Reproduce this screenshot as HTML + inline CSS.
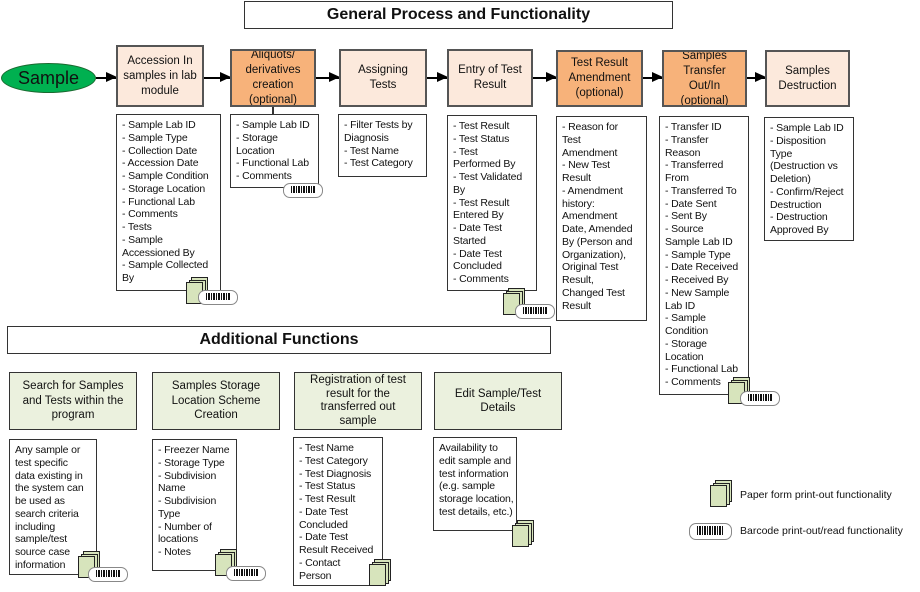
<!DOCTYPE html>
<html><head><meta charset="utf-8"><style>
*{margin:0;padding:0;box-sizing:border-box}
body{width:920px;height:592px;background:#fff;position:relative;overflow:hidden;font-family:"Liberation Sans",sans-serif;color:#111}
.a{position:absolute}
.t{border:1.5px solid #333;background:#fff;display:flex;align-items:center;justify-content:center;font-weight:bold;font-size:16px}
.p{border:2px solid #555;display:flex;align-items:center;justify-content:center;text-align:center;font-size:11.5px;line-height:15px;overflow:hidden;white-space:nowrap}
.lt{background:#fce9dc}
.or{background:#f7b27a}
.gr{background:#ebf1de;border:1.5px solid #333;display:flex;align-items:center;justify-content:center;text-align:center;font-size:11.5px;line-height:14.5px;white-space:nowrap}
.d{border:1.5px solid #333;background:#fff;font-size:10.5px;line-height:12.75px;padding:4px 0 0 5px;overflow:visible;white-space:nowrap;letter-spacing:-0.15px}
.pp{position:absolute;width:22px;height:28px}
.pp i{position:absolute;width:17px;height:22px;background:#d7e4bc;border:1px solid #222}
.bc{position:absolute;width:40px;height:15px;border:1px solid #888;border-radius:7px;background:#fff}
.bc i{position:absolute;left:7px;right:7px;top:2px;bottom:4px;background:repeating-linear-gradient(90deg,#111 0 1px,#fff 1px 2px,#111 2px 4px,#fff 4px 5px)}
.ar{position:absolute;height:1.5px;background:#000}
.ar:after{content:"";position:absolute;right:-1px;top:-5px;border-left:11px solid #000;border-top:5.5px solid transparent;border-bottom:5.5px solid transparent}
</style></head><body>
<div class="a t" style="left:244px;top:1px;width:429px;height:28px">General Process and Functionality</div>

<div class="a" style="left:1px;top:63px;width:95px;height:30px;border-radius:50%;background:#00b050;border:1.5px solid #1a6a30;display:flex;align-items:center;justify-content:center;font-size:18px">Sample</div>

<div class="ar" style="left:96px;top:77px;width:20px"></div>
<div class="ar" style="left:204px;top:77px;width:26px"></div>
<div class="ar" style="left:316px;top:77px;width:23px"></div>
<div class="ar" style="left:427px;top:77px;width:20px"></div>
<div class="ar" style="left:533px;top:77px;width:23px"></div>
<div class="ar" style="left:643px;top:77px;width:19px"></div>
<div class="ar" style="left:747px;top:77px;width:18px"></div>

<div class="a p lt" style="left:116px;top:45px;width:88px;height:62px">Accession In<br>samples in lab<br>module</div>
<div class="a p or" style="left:230px;top:49px;width:86px;height:58px">Aliquots/<br>derivatives<br>creation<br>(optional)</div>
<div class="a p lt" style="left:339px;top:49px;width:88px;height:58px">Assigning<br>Tests</div>
<div class="a p lt" style="left:447px;top:49px;width:86px;height:58px">Entry of Test<br>Result</div>
<div class="a p or" style="left:556px;top:50px;width:87px;height:57px">Test Result<br>Amendment<br>(optional)</div>
<div class="a p or" style="left:662px;top:50px;width:85px;height:57px">Samples<br>Transfer<br>Out/In<br>(optional)</div>
<div class="a p lt" style="left:765px;top:50px;width:85px;height:57px">Samples<br>Destruction</div>
<div class="a" style="left:272px;top:107px;width:1.5px;height:7px;background:#333"></div>

<div class="a d" style="left:116px;top:114px;width:105px;height:177px">- Sample Lab ID<br>- Sample Type<br>- Collection Date<br>- Accession Date<br>- Sample Condition<br>- Storage Location<br>- Functional Lab<br>- Comments<br>- Tests<br>- Sample<br>Accessioned By<br>- Sample Collected<br>By</div>
<div class="a d" style="left:230px;top:114px;width:89px;height:74px">- Sample Lab ID<br>- Storage<br>Location<br>- Functional Lab<br>- Comments</div>
<div class="a d" style="left:338px;top:114px;width:89px;height:63px">- Filter Tests by<br>Diagnosis<br>- Test Name<br>- Test Category</div>
<div class="a d" style="left:447px;top:115px;width:90px;height:176px">- Test Result<br>- Test Status<br>- Test<br>Performed By<br>- Test Validated<br>By<br>- Test Result<br>Entered By<br>- Date Test<br>Started<br>- Date Test<br>Concluded<br>- Comments</div>
<div class="a d" style="left:556px;top:116px;width:91px;height:205px">- Reason for<br>Test<br>Amendment<br>- New Test<br>Result<br>- Amendment<br>history:<br>Amendment<br>Date, Amended<br>By (Person and<br>Organization),<br>Original Test<br>Result,<br>Changed Test<br>Result</div>
<div class="a d" style="left:659px;top:116px;width:90px;height:279px">- Transfer ID<br>- Transfer<br>Reason<br>- Transferred<br>From<br>- Transferred To<br>- Date Sent<br>- Sent By<br>- Source<br>Sample Lab ID<br>- Sample Type<br>- Date Received<br>- Received By<br>- New Sample<br>Lab ID<br>- Sample<br>Condition<br>- Storage<br>Location<br>- Functional Lab<br>- Comments</div>
<div class="a d" style="left:764px;top:117px;width:90px;height:124px">- Sample Lab ID<br>- Disposition<br>Type<br>(Destruction vs<br>Deletion)<br>- Confirm/Reject<br>Destruction<br>- Destruction<br>Approved By</div>

<div class="a t" style="left:7px;top:326px;width:544px;height:28px">Additional Functions</div>

<div class="a gr" style="left:9px;top:372px;width:128px;height:58px">Search for Samples<br>and Tests within the<br>program</div>
<div class="a gr" style="left:152px;top:372px;width:128px;height:58px">Samples Storage<br>Location Scheme<br>Creation</div>
<div class="a gr" style="left:294px;top:372px;width:128px;height:58px;line-height:13.5px">Registration of test<br>result for the<br>transferred out<br>sample</div>
<div class="a gr" style="left:434px;top:372px;width:128px;height:58px">Edit Sample/Test<br>Details</div>

<div class="a d" style="left:9px;top:439px;width:88px;height:136px">Any sample or<br>test specific<br>data existing in<br>the system can<br>be used as<br>search criteria<br>including<br>sample/test<br>source case<br>information</div>
<div class="a d" style="left:152px;top:439px;width:85px;height:132px">- Freezer Name<br>- Storage Type<br>- Subdivision<br>Name<br>- Subdivision<br>Type<br>- Number of<br>locations<br>- Notes</div>
<div class="a d" style="left:293px;top:437px;width:90px;height:149px">- Test Name<br>- Test Category<br>- Test Diagnosis<br>- Test Status<br>- Test Result<br>- Date Test<br>Concluded<br>- Date Test<br>Result Received<br>- Contact<br>Person</div>
<div class="a d" style="left:433px;top:437px;width:84px;height:94px">Availability to<br>edit sample and<br>test information<br>(e.g. sample<br>storage location,<br>test details, etc.)</div>

<div class="pp" style="left:186px;top:277px"><i style="left:5px;top:0"></i><i style="left:2.5px;top:2.5px"></i><i style="left:0;top:5px"></i></div>
<div class="pp" style="left:503px;top:288px"><i style="left:5px;top:0"></i><i style="left:2.5px;top:2.5px"></i><i style="left:0;top:5px"></i></div>
<div class="pp" style="left:728px;top:377px"><i style="left:5px;top:0"></i><i style="left:2.5px;top:2.5px"></i><i style="left:0;top:5px"></i></div>
<div class="pp" style="left:78px;top:551px"><i style="left:5px;top:0"></i><i style="left:2.5px;top:2.5px"></i><i style="left:0;top:5px"></i></div>
<div class="pp" style="left:215px;top:549px"><i style="left:5px;top:0"></i><i style="left:2.5px;top:2.5px"></i><i style="left:0;top:5px"></i></div>
<div class="pp" style="left:369px;top:559px"><i style="left:5px;top:0"></i><i style="left:2.5px;top:2.5px"></i><i style="left:0;top:5px"></i></div>
<div class="pp" style="left:512px;top:520px"><i style="left:5px;top:0"></i><i style="left:2.5px;top:2.5px"></i><i style="left:0;top:5px"></i></div>
<div class="pp" style="left:710px;top:480px"><i style="left:5px;top:0"></i><i style="left:2.5px;top:2.5px"></i><i style="left:0;top:5px"></i></div>

<div class="bc" style="left:198px;top:290px"><i></i></div>
<div class="bc" style="left:283px;top:183px"><i></i></div>
<div class="bc" style="left:515px;top:304px"><i></i></div>
<div class="bc" style="left:740px;top:391px"><i></i></div>
<div class="bc" style="left:88px;top:567px"><i></i></div>
<div class="bc" style="left:226px;top:566px"><i></i></div>
<div class="bc" style="left:689px;top:523px;width:43px;height:17px"><i></i></div>

<div class="a" style="left:740px;top:489px;font-size:10.5px">Paper form print-out functionality</div>
<div class="a" style="left:740px;top:525px;font-size:10.5px">Barcode print-out/read functionality</div>
</body></html>
